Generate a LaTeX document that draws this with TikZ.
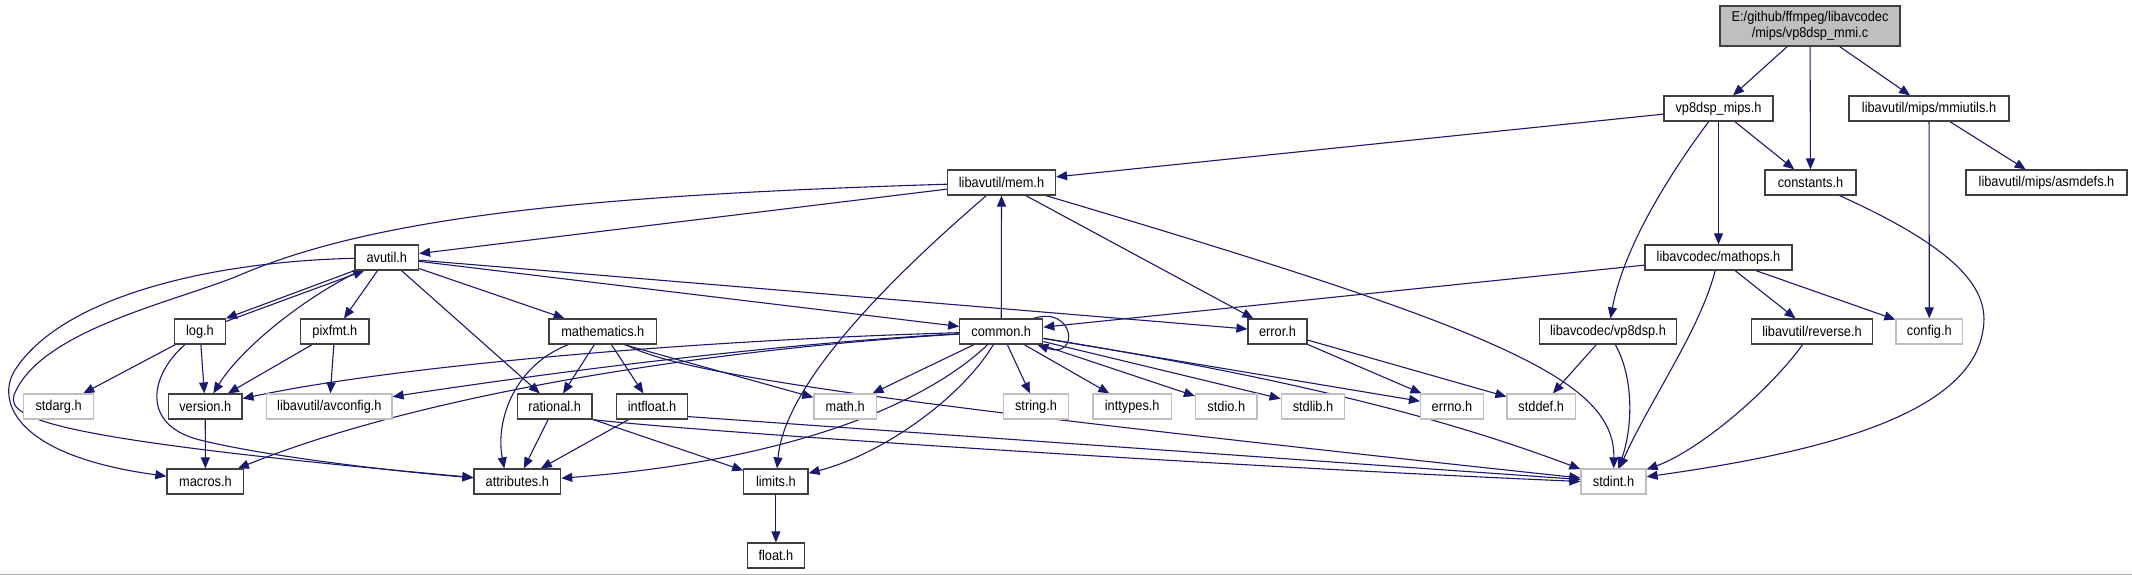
\documentclass[tikz,border=0pt]{standalone}
\usepackage{fontspec}
\setmainfont[FakeStretch=0.9]{Liberation Sans}
\usetikzlibrary{arrows.meta}
\definecolor{edgec}{HTML}{191970}
\definecolor{sysgray}{HTML}{BFBFBF}
\definecolor{boxline}{HTML}{404040}
\pgfdeclarelayer{bglayer}
\pgfdeclarelayer{edgelayer}
\pgfsetlayers{bglayer,edgelayer,main}
\begin{document}
\begin{tikzpicture}[x=1pt,y=-1pt,
  hdr/.style={draw=boxline, line width=1.2pt, fill=white, inner sep=0pt, minimum height=25pt, font=\fontsize{14.2}{15}\selectfont, text=black},
  sys/.style={hdr, draw=sysgray},
  dep/.style={draw=edgec, line width=1.1pt, -{Triangle[length=11pt,width=9pt]}}]
\useasboundingbox (0,0) rectangle (2132,575);
\begin{pgfonlayer}{bglayer}
\fill[white] (0,0) rectangle (2132,575);
\draw[gray!60, line width=1pt] (0,574.5) -- (2132,574.5);
\end{pgfonlayer}

\node[hdr, fill=sysgray, minimum width=180pt, minimum height=40pt, align=center, font=\fontsize{14.2}{16}\selectfont] (root) at (1810,26) {E:/github/ffmpeg/libavcodec\\/mips/vp8dsp\_mmi.c};
\node[hdr, minimum width=109pt] (vp8mips) at (1718.5,108.5) {vp8dsp\_mips.h};
\node[hdr, minimum width=160pt] (mmiutils) at (1929,108.5) {libavutil/mips/mmiutils.h};
\node[hdr, minimum width=91pt] (constants) at (1810.5,182.5) {constants.h};
\node[hdr, minimum width=161pt] (asmdefs) at (2046.5,182.5) {libavutil/mips/asmdefs.h};
\node[hdr, minimum width=108pt] (mem) at (1001.5,182.5) {libavutil/mem.h};
\node[hdr, minimum width=63.5pt] (avutil) at (386.75,257.5) {avutil.h};
\node[hdr, minimum width=147pt] (mathops) at (1718.5,257.5) {libavcodec/mathops.h};
\node[hdr, minimum width=50.5pt] (log) at (200,331.5) {log.h};
\node[hdr, minimum width=68.4pt] (pixfmt) at (334.8,331.5) {pixfmt.h};
\node[hdr, minimum width=107.6pt] (mathematics) at (602.8,331.5) {mathematics.h};
\node[hdr, minimum width=83pt] (common) at (1001.25,331.5) {common.h};
\node[hdr, minimum width=59pt] (error) at (1277.5,331.5) {error.h};
\node[hdr, minimum width=137pt] (vp8dsp) at (1608,331.5) {libavcodec/vp8dsp.h};
\node[hdr, minimum width=120.6pt] (reverse) at (1812,331.5) {libavutil/reverse.h};
\node[sys, minimum width=66.7pt] (config) at (1929.3,331.5) {config.h};
\node[sys, minimum width=69.7pt] (stdarg) at (58.6,406.5) {stdarg.h};
\node[hdr, minimum width=73.5pt] (version) at (205.25,406.5) {version.h};
\node[sys, minimum width=125.2pt] (avconfig) at (329.4,406.5) {libavutil/avconfig.h};
\node[hdr, minimum width=74.8pt] (rational) at (554.6,406.5) {rational.h};
\node[hdr, minimum width=71pt] (intfloat) at (652,406.5) {intfloat.h};
\node[sys, minimum width=62.5pt] (mathh) at (845.2,406.5) {math.h};
\node[sys, minimum width=65.2pt] (stringh) at (1036,406.5) {string.h};
\node[sys, minimum width=78.4pt] (inttypes) at (1132.2,406.5) {inttypes.h};
\node[sys, minimum width=61.5pt] (stdio) at (1226.3,406.5) {stdio.h};
\node[sys, minimum width=63.7pt] (stdlib) at (1313,406.5) {stdlib.h};
\node[sys, minimum width=62.7pt] (errno) at (1451.9,406.5) {errno.h};
\node[sys, minimum width=68.4pt] (stddef) at (1541.2,406.5) {stddef.h};
\node[hdr, minimum width=76.8pt] (macros) at (205.4,481.5) {macros.h};
\node[hdr, minimum width=86.7pt] (attributes) at (517.3,481.5) {attributes.h};
\node[hdr, minimum width=64.2pt] (limits) at (775.9,481.5) {limits.h};
\node[sys, minimum width=65pt] (stdint) at (1613.5,481.5) {stdint.h};
\node[hdr, minimum width=57.2pt] (floath) at (775.9,555.5) {float.h};

\begin{pgfonlayer}{edgelayer}
\draw[dep] (root) -- (vp8mips);
\draw[dep] (root) -- (constants);
\draw[dep] (root) -- (mmiutils);
\draw[dep] (vp8mips) -- (mem);
\draw[dep] (vp8mips) -- (constants);
\draw[dep] (vp8mips) -- (mathops);
\draw[dep] (vp8mips) .. controls (1680,160) and (1625,240) .. (vp8dsp);
\draw[dep] (mmiutils) -- (config);
\draw[dep] (mmiutils) -- (asmdefs);
\draw[dep] (constants) .. controls (1960,250) and (1990,290) .. (1983,330) .. controls (1970,420) and (1800,455) .. (stdint);

\draw[dep] (mem) -- (avutil);
\draw[dep] (mem) -- (error);
\draw[dep] (mem) .. controls (1500,330) and (1615,380) .. (stdint);
\draw[dep] (mem) .. controls (900,270) and (785,380) .. (limits);
\draw[dep] (mem) .. controls (600,195) and (380,215) .. (240,275) .. controls (175,302) and (40,330) .. (14,395) .. controls (6,420) and (60,440) .. (attributes);

\draw[dep] (avutil) .. controls (200,262) and (60,300) .. (15,370) .. controls (-3,398) and (10,455) .. (macros);
\draw[dep] (avutil.south west) -- (log.north east);
\draw[dep] ([yshift=10pt]log.east) -- ([xshift=10pt]avutil.south west);
\draw[dep] (avutil) -- (pixfmt);
\draw[dep] (avutil) .. controls (300,300) and (240,350) .. (version);
\draw[dep] (avutil) -- (mathematics);
\draw[dep] (avutil) -- (rational);
\draw[dep] (avutil) -- (common);
\draw[dep] (avutil) -- (error);

\draw[dep] (log) -- (stdarg);
\draw[dep] (log) -- (version);
\draw[dep] (log) .. controls (150,375) and (140,425) .. (200,440) .. controls (260,455) and (380,470) .. (attributes);

\draw[dep] (pixfmt) -- (version);
\draw[dep] (pixfmt) -- (avconfig);
\draw[dep] (version) -- (macros);

\draw[dep] (mathematics) -- (rational);
\draw[dep] (mathematics) -- (intfloat);
\draw[dep] ([xshift=21pt]mathematics.south) -- ([yshift=-4pt]mathh.north west);
\draw[dep] (mathematics) .. controls (515,365) and (495,420) .. ([xshift=-13pt]attributes.north);
\draw[dep] (mathematics) .. controls (680,375) and (900,405) .. (stdint);

\draw[dep] (rational) -- (limits);
\draw[dep] (rational) -- (attributes);
\draw[dep] (rational.south east) .. controls (700,432) and (1200,465) .. (stdint.west);
\draw[dep] (intfloat) -- (attributes);
\draw[dep] ([yshift=3pt]intfloat.south east) -- ([yshift=2pt]stdint.west);

\draw[dep] (common) -- (mem);
\draw[dep] (common) -- (mathh);
\draw[dep] (common) -- (stringh);
\draw[dep] (common) -- (inttypes);
\draw[dep] (common) -- (stdio);
\draw[dep] (common) -- (stdlib);
\draw[dep] (common) -- (errno);
\draw[dep] (common) .. controls (1300,380) and (1450,420) .. (stdint);
\draw[dep] (common) .. controls (960,400) and (880,455) .. (limits);
\draw[dep] (common) .. controls (930,400) and (800,460) .. (attributes);
\draw[dep] (common) .. controls (700,340) and (400,365) .. (version);
\draw[dep] (common) .. controls (750,345) and (500,380) .. (avconfig);
\draw[dep] (common) .. controls (700,350) and (420,395) .. (macros);
\draw[dep] ([xshift=-10pt]common.north east) .. controls (1075,305) and (1080,360) .. ([xshift=-6pt]common.south east);

\draw[dep] (mathops) -- (common);
\draw[dep] (mathops) .. controls (1700,330) and (1650,400) .. (stdint);
\draw[dep] (mathops) -- (reverse);
\draw[dep] (mathops) -- (config);

\draw[dep] (vp8dsp) -- (stddef);
\draw[dep] (vp8dsp) .. controls (1635,380) and (1632,430) .. (stdint);
\draw[dep] (error) -- (errno);
\draw[dep] (error) -- (stddef);
\draw[dep] (reverse) .. controls (1770,390) and (1700,450) .. (stdint);
\draw[dep] (limits) -- (floath);
\end{pgfonlayer}
\end{tikzpicture}
\end{document}
